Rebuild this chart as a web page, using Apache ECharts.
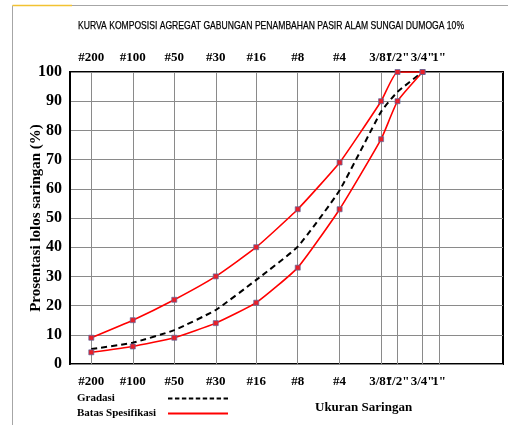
<!DOCTYPE html>
<html>
<head>
<meta charset="utf-8">
<script src="https://cdn.jsdelivr.net/npm/echarts@6/dist/echarts.min.js"></script>
<style>html,body{margin:0;padding:0;background:#fff}#c{width:508px;height:425px}</style>
</head>
<body>
<div id="c"></div>
<script>
const sieveLabels = ['#200', '#100', '#50', '#30', '#16', '#8', '#4', '3/8"', '1/2"', '3/4"', '1"'];
const sieveSizes = [0.075, 0.15, 0.3, 0.6, 1.18, 2.36, 4.75, 9.5, 12.5, 19, 25];
const gradasi = [5.1, 7.3, 11.6, 18.5, 28.8, 40.2, 59.5, 86.4, 93.2, 100];
const batasAtas = [9, 15, 22, 30, 40, 53, 69, 90, 100, 100];
const batasBawah = [4, 6, 9, 14, 21, 33, 53, 77, 90, 100];
const titleText = 'KURVA KOMPOSISI AGREGAT GABUNGAN PENAMBAHAN PASIR ALAM SUNGAI DUMOGA 10%';

const xMin = 0.05256, xMax = 72.8;
function pairs(arr) { return arr.map((v, i) => [sieveSizes[i], v]); }
function sieveName(v) {
  let best = -1, bd = 0.02;
  sieveSizes.forEach((s, i) => { const d = Math.abs(Math.log(v / s)); if (d < bd) { bd = d; best = i; } });
  return best < 0 ? ' ' : sieveLabels[best];
}
let dash = 'path://';
for (let k = 0; k < 9; k++) { dash += 'M' + (k * 7.2) + ',0h4.6v2h-4.6z'; }

const serif = 'Liberation Serif';
// a blank label at the axis end keeps the min/max-label overlap check away from the real labels
const labelValues = sieveSizes.concat([xMax]);
const labelBase = { customValues: labelValues, formatter: sieveName, fontFamily: serif, fontWeight: 'bold', fontSize: 13, color: '#000',
  hideOverlap: false };
const xCommon = {
  type: 'log', logBase: 2, min: xMin, max: xMax,
  axisLine: { show: false },
  axisTick: { show: false, customValues: sieveSizes },
  minorTick: { show: false }, minorSplitLine: { show: false }
};
const chart = echarts.init(document.getElementById('c'));
chart.setOption({
  animation: false,
  grid: { left: 70, right: 5, top: 72, bottom: 61, show: true, borderColor: '#000', borderWidth: 2, backgroundColor: 'transparent' },
  xAxis: [
    Object.assign({}, xCommon, { position: 'bottom', splitLine: { show: true, customValues: sieveSizes, lineStyle: { color: '#8a8a8a', width: 1 } }, axisLabel: Object.assign({}, labelBase, { margin: 11 }) }),
    Object.assign({}, xCommon, { position: 'top', splitLine: { show: false }, axisLabel: Object.assign({}, labelBase, { margin: 8 }) })
  ],
  yAxis: {
    type: 'value', min: 0, max: 100, interval: 10,
    name: 'Prosentasi lolos saringan (%)', nameLocation: 'middle', nameGap: 26, nameRotate: 90, nameMoveOverlap: false,
    nameTextStyle: { fontFamily: serif, fontWeight: 'bold', fontSize: 15, color: '#000' },
    axisLine: { show: true, lineStyle: { color: '#000', width: 2 } },
    axisTick: { show: false },
    axisLabel: { fontFamily: serif, fontWeight: 'bold', fontSize: 16, color: '#000', margin: 8 },
    splitLine: { show: true, lineStyle: { color: '#8a8a8a', width: 1 } }
  },
  legend: {
    left: 77, top: 393, padding: 0, orient: 'vertical', align: 'right',
    itemWidth: 60, itemHeight: 2, itemGap: 4,
    formatter: n => '{t|' + n + '}',
    textStyle: { rich: { t: { width: 86, align: 'left', fontFamily: serif, fontWeight: 'bold', fontSize: 11, color: '#000' } } },
    data: [
      { name: 'Gradasi', icon: dash, itemStyle: { color: '#000', borderWidth: 0 } },
      { name: 'Batas Spesifikasi', icon: 'rect', itemStyle: { color: '#ff0000', borderWidth: 0 } }
    ]
  },
  graphic: [
    { type: 'line', shape: { x1: 12.5, y1: 5.5, x2: 12.5, y2: 425 }, style: { stroke: '#a6a6a6', lineWidth: 1 } },
    { type: 'line', shape: { x1: 72, y1: 5.5, x2: 508, y2: 5.5 }, style: { stroke: '#a6a6a6', lineWidth: 1 } },
    { type: 'line', shape: { x1: 12.5, y1: 5.5, x2: 72, y2: 5.5 }, style: { stroke: '#f2c232', lineWidth: 1.5 } },
    { type: 'text', x: 78, y: 20, scaleX: 0.78, style: { text: titleText, font: '11px "Liberation Sans"', fill: '#000', stroke: '#000', lineWidth: 0.25 } },
    { type: 'text', left: 315, top: 401, style: { text: 'Ukuran Saringan', font: 'bold 13px "Liberation Serif"', fill: '#000' } }
  ],
  series: [
    { name: 'Gradasi', type: 'line', xAxisIndex: 0, data: pairs(gradasi), smooth: 0.15, showSymbol: false, symbol: 'none',
      lineStyle: { color: '#000', width: 2, type: [6, 4] }, itemStyle: { color: '#000' }, z: 3 },
    { name: 'Batas Spesifikasi', type: 'line', xAxisIndex: 0, data: pairs(batasAtas), smooth: 0.15, symbol: 'rect', symbolSize: 5,
      lineStyle: { color: '#ff0000', width: 1.6 }, itemStyle: { color: '#e8202a', borderColor: '#5a6aa0', borderWidth: 0.7 }, z: 4 },
    { name: 'Batas Spesifikasi', type: 'line', xAxisIndex: 0, data: pairs(batasBawah), smooth: 0.15, symbol: 'rect', symbolSize: 5,
      lineStyle: { color: '#ff0000', width: 1.6 }, itemStyle: { color: '#e8202a', borderColor: '#5a6aa0', borderWidth: 0.7 }, z: 4 }
  ]
});
</script>
</body>
</html>
